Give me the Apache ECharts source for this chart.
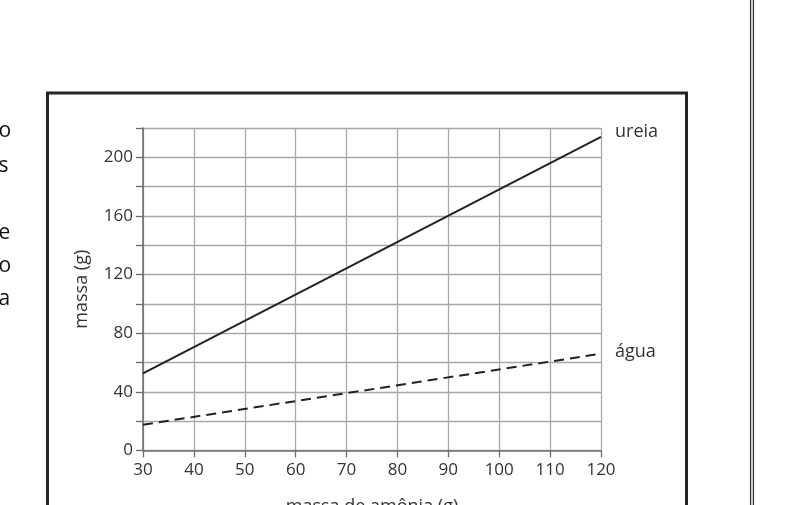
<!DOCTYPE html>
<html>
<head>
<meta charset="utf-8">
<script src="https://cdn.jsdelivr.net/npm/echarts@6/dist/echarts.min.js"></script>
<style>
  html, body { margin: 0; padding: 0; background: #fff; }
  #chart { width: 806px; height: 505px; }
</style>
</head>
<body>
<div id="chart"></div>
<script>
// Data
const ammoniaRange = [30, 120];            // massa de amônia (g)
const ureiaValues = [52.5, 214];            // massa de ureia (g) at 30 and 120
const aguaValues = [17.5, 66];              // massa de água (g) at 30 and 120
const seriesNames = ['ureia', 'água'];
const xAxisName = 'massa de amônia (g)';
const yAxisName = 'massa (g)';
const sideFragments = ['o', 's', 'e', 'o', 'a'];   // cut-off text at the left margin
const sideFragmentRows = [131, 166, 233, 266, 299];

const FONT = '"Open Sans", sans-serif';

function pairs(xs, ys) { return xs.map((x, i) => [x, ys[i]]); }

const chart = echarts.init(document.getElementById('chart'), null, { renderer: 'canvas' });

const graphics = [
  // outer frame of the figure
  { type: 'rect', silent: true, shape: { x: 47.5, y: 93, width: 639, height: 520 },
    style: { fill: null, stroke: '#262626', lineWidth: 3 } },
  // page column rule (double line)
  { type: 'line', silent: true, shape: { x1: 750.6, y1: 0, x2: 750.6, y2: 505 },
    style: { stroke: '#333', lineWidth: 1.3 } },
  { type: 'line', silent: true, shape: { x1: 753.4, y1: 0, x2: 753.4, y2: 505 },
    style: { stroke: '#333', lineWidth: 1.3 } }
];
sideFragments.forEach((t, i) => {
  graphics.push({ type: 'text', silent: true, x: -1.5, y: sideFragmentRows[i],
    style: { text: t, font: '21px ' + FONT, fill: '#111', verticalAlign: 'middle', align: 'left' } });
});

const option = {
  animation: false,
  backgroundColor: '#fff',
  grid: { left: 143, right: 205, top: 128, bottom: 54.6, containLabel: false, outerBoundsMode: 'none' },
  xAxis: {
    type: 'value', min: ammoniaRange[0], max: ammoniaRange[1], interval: 10,
    name: xAxisName, nameLocation: 'middle', nameGap: 47,
    nameTextStyle: { fontFamily: FONT, fontSize: 18, color: '#333' },
    axisLine: { show: true, onZero: false, lineStyle: { color: '#6e6e6e', width: 1.6 } },
    axisTick: { show: true, length: 7, lineStyle: { color: '#6e6e6e', width: 1.3 } },
    axisLabel: { fontFamily: FONT, fontSize: 17, color: '#333', margin: 11 },
    splitLine: { show: true, lineStyle: { color: '#a8a8a8', width: 1.3 } }
  },
  yAxis: {
    type: 'value', min: 0, max: 220, interval: 20,
    name: yAxisName, nameLocation: 'middle', nameGap: 52, nameRotate: 90,
    nameTextStyle: { fontFamily: FONT, fontSize: 18, color: '#333' },
    axisLine: { show: true, lineStyle: { color: '#6e6e6e', width: 1.6 } },
    axisTick: { show: true, length: 7, lineStyle: { color: '#6e6e6e', width: 1.3 } },
    axisLabel: { fontFamily: FONT, fontSize: 17, color: '#333', margin: 10,
      formatter: v => (v % 40 === 0 ? String(v) : '') },
    splitLine: { show: true, lineStyle: { color: '#a8a8a8', width: 1.3 } }
  },
  series: [
    {
      name: seriesNames[0], type: 'line', data: pairs(ammoniaRange, ureiaValues),
      showSymbol: false, symbol: 'none',
      lineStyle: { color: '#222', width: 2 },
      endLabel: { show: true, formatter: '{a}', fontFamily: FONT, fontSize: 18, color: '#333',
        distance: 14, offset: [0, -5] }
    },
    {
      name: seriesNames[1], type: 'line', data: pairs(ammoniaRange, aguaValues),
      showSymbol: false, symbol: 'none',
      lineStyle: { color: '#222', width: 2, type: [10, 6] },
      endLabel: { show: true, formatter: '{a}', fontFamily: FONT, fontSize: 18, color: '#333',
        distance: 14, offset: [0, -2] }
    }
  ],
  graphic: graphics
};

chart.setOption(option);
</script>
</body>
</html>
